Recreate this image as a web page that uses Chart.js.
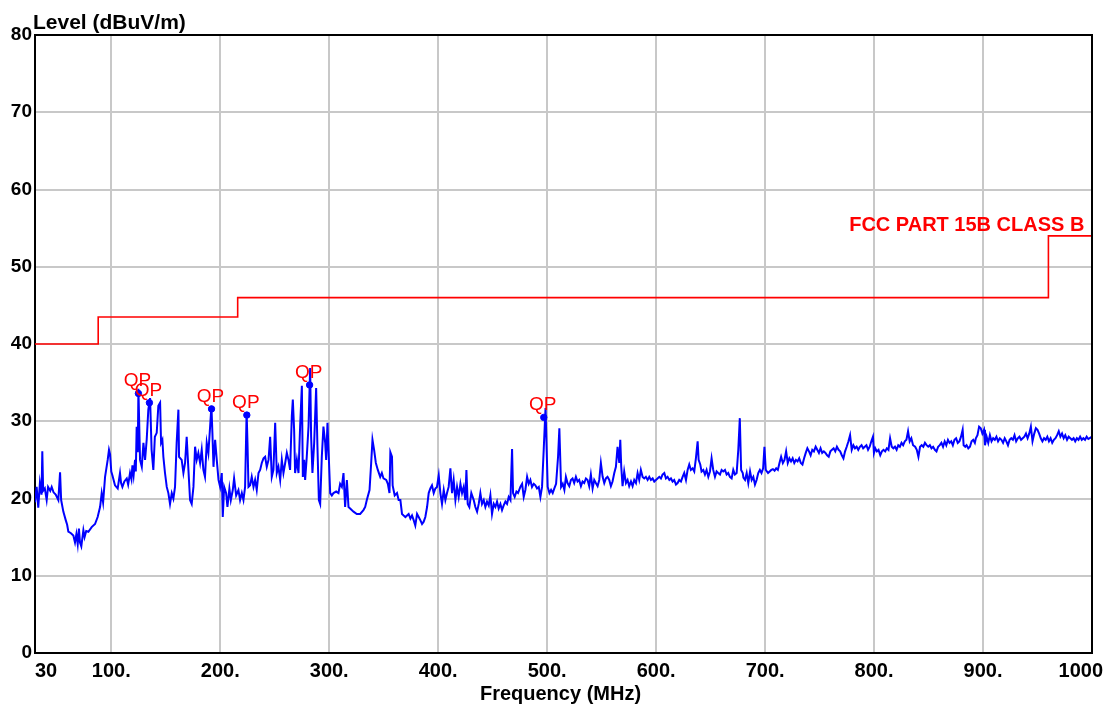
<!DOCTYPE html>
<html><head><meta charset="utf-8">
<script src="https://cdn.jsdelivr.net/npm/chart.js@4.4.1/dist/chart.umd.min.js"></script>
<style>html,body{margin:0;padding:0;background:#fff;}#wrap{width:1110px;height:709px;position:relative;}</style>
</head><body><div id="wrap"><canvas id="c" width="1110" height="709"></canvas></div>
<script>
// ---- data ----
const freqMHz = [
30,31.5,33,34.5,36,36.7,37.5,39,40.7,42,
44,45.3,47,49,51.4,53,54,56,58.2,59.5,
60.6,63,65.2,66.7,68,69.2,70.3,71.3,72.5,74.4,
75.5,77,79,82,85.1,87.5,89.7,91.2,92.5,94.3,
96.7,97.9,98.9,100,101,103.4,105.9,108,109,110.2,
112,114.2,115.5,117.2,118.5,119.4,120.5,121.8,122.5,123.3,
124.3,124.9,126.4,128,129.5,131,132.5,134,135.6,137,
138.6,140,141.7,143.2,144.8,145.7,146.9,147.8,149.3,150.9,
152.4,153.9,155.5,157,158.5,160,161.6,162.2,164.6,166.2,
167.7,169.2,170.8,172.3,173.8,175.4,176.9,178.4,179.9,181.5,
183,184.5,186,187.6,189.1,190.7,191.9,192.8,193.8,195.3,
196.8,198.4,199.9,201.4,202.3,203.6,205.4,206.6,208.4,209.7,
211.5,212.7,214.6,216.7,218.2,219.8,221.3,222.8,224.2,225,
225.9,227.4,228.9,230.5,232,233.5,235.1,236.6,238.1,239.7,
241.2,242.7,244.3,245.8,247.3,248.8,250.4,251.9,253.4,255,
256.5,258,259.6,261.1,262.6,264.1,265.7,266.6,267.8,268.7,
270.3,271.8,273.3,274.9,275.8,277,277.9,279.4,281,282.5,
283.4,284.6,286.2,288,289.2,290.5,291.7,293.2,294.7,296.3,
297.2,298.4,299.6,300.9,302.4,303.9,306.4,308.5,310,311.6,
313.1,314.6,316.2,317.7,319.2,322.3,325.3,328.4,331.4,333,
334.5,337,338.5,339.7,341.2,342.8,344.6,346.8,348.3,349.8,
352.3,353.8,355.3,356.1,357.6,358.2,360.1,362.2,363.7,365.3,
366.8,368.3,369.9,372.9,374.5,376,377.5,379,380.6,382.1,
383.6,385.2,386.7,388.2,389.8,391.3,392.8,394.3,395.9,397.4,
398.9,400.5,402,403.5,405.1,406.6,408.1,409.6,411.2,412.7,
414.2,415.8,417.3,418.8,420.4,421.9,423.4,424.9,425.9,427.1,
428.6,430.4,432.6,434.1,435.7,437.2,438.7,440.2,441.8,443.3,
444.8,446.4,447.9,449.4,451,452.5,454,455.5,457.1,458.6,
460.1,461.7,463.2,464.7,466.3,467.8,468.7,470.2,471.8,473.3,
475.4,477,478.5,480,481.6,483.1,484.6,486.1,487.7,489.2,
490.7,492.3,493.8,495.3,496.9,498.5,500.5,502.1,503.6,505.1,
506.6,508.2,510,511.2,512.8,514.3,515.8,517.2,518.7,520.3,
521.8,523.3,524.8,526.4,527.9,529.4,531,532.5,534,535.6,
537.1,538.6,540.1,541.7,543.2,544.7,546.3,547.8,549.3,550.9,
552.4,553.9,555.4,557,558.5,560,561.6,563.1,564.6,566.2,
567.1,568,569.2,570.7,572.3,573.8,575.3,576.9,578.4,579.9,
581.5,583,584.5,586,587.6,589.1,590.6,592.2,593.7,595.2,
596.8,598.3,599.8,601.3,602.9,604.4,605.9,607.5,609,610.5,
612.1,613.6,615.1,616.6,618.2,619.7,621.2,622.8,624.3,625.8,
627.4,628.9,630.4,631.9,633.5,635,636.5,638.1,639,640.5,
641.7,643.3,644.8,646.3,647.9,649.4,650.9,652.4,654,655.5,
657,658.6,660.1,661.6,663.2,664.7,666.2,667.7,669.3,670.8,
672.3,673.9,675.4,676.8,678,679.5,680.1,681.6,683.1,684.6,
686.2,687.7,689.2,690.7,692.2,693.7,695.2,696.7,698.2,699.4,
700.6,702.7,704.2,705.7,707.2,708.7,710.2,711.7,713.2,714.7,
716.3,717.8,719.3,720.8,722.3,723.8,725.3,726.8,728.3,729.8,
731.3,732.8,734.3,735.8,737.3,738.8,740.3,741.8,743.3,744.8,
746.4,747.9,749.4,750.9,752.4,753.9,755.4,756.9,758.4,759.9,
761.4,762.9,764.4,765.9,767.4,768.9,770.4,771.9,773.4,774.9,
776.5,778,779.5,781,782.5,784,785.5,787,788.5,790,
791.5,793,794.5,796,797.5,799,799.9,801.1,802.6,804.1,
805.7,807.2,808.7,810.2,811.7,813.2,814.7,816.2,817.7,819.2,
820.7,822.2,823.7,825.2,826.7,828.2,829.7,831.2,832.7,834.2,
835.8,837.7,839.2,840.7,842.2,843.7,845.2,846.7,848.2,849.7,
851.2,852.7,854.2,855.8,857.3,858.8,860.3,861.8,863.3,864.8,
866.3,867.8,869.3,870.8,872.3,873.8,875.3,876.8,878.3,879.8,
881.3,882.2,883.7,884.9,886.5,888,889.5,891,892.5,893.4,
894.9,896.4,897.9,899.4,900.9,901.8,903.3,904.8,906.3,907.8,
909.3,910.8,912.3,913.8,915.4,916.9,918.4,919.9,921.4,922.9,
924.4,925.9,927.4,928.9,930.4,931.9,933.4,934.9,936.4,937.9,
939.4,940.9,942.4,943.9,945.4,947,948.5,950,951.5,953,
954.5,956,957.5,959,960.5,962,963.5,965,966.5,968,
969.5,971,972.5,974,975.5,977.1,978.6,980.1,981.6,983.1,
984.6,986.1,987.6,989.1,990.6,992.1,993.6,995.1,996.6,1000
];
const levelDb = [
19.5,21.5,18.8,22,20.5,26.1,21,21.3,19.8,21.5,
21,21.5,20.8,20.5,19.8,23.4,19.8,18.3,17.2,16.6,
15.7,15.5,15.2,14.3,15.4,14.1,16.1,14.3,13.8,15.9,
15,15.8,15.7,16.3,16.7,17.6,18.9,20.7,19.5,22.8,
25,26.3,25.7,23.5,23,21.7,21.3,23.3,22,21.5,
22.2,22.6,21.8,23.3,22.5,24.3,23,25,23.5,29.3,
26,34.2,25,24.1,27.2,25,27.6,31.5,33,26.3,
23.7,28,28.5,32,32.4,27.2,27.6,25.4,23.3,21.5,
20.7,19.3,20.7,20,21.5,27.2,31.5,25.4,25,23.3,
24.6,28,23.7,19.8,19.3,21.5,26.7,25,25.9,24.6,
26.3,23.7,22.8,27.2,25.9,29.3,32,28.5,24.1,27.6,
25,22.4,21.5,23.3,17.6,21.5,20.7,18.9,21.3,19.8,
21.1,22.6,20.4,21.1,19.8,20.7,19.8,21.5,31.2,27.2,
21.5,21.7,22.8,21.5,22.4,21.1,23.3,23.7,24.6,25.2,
25.4,24.1,25,28,22.8,23.7,29.8,23.3,24.1,22.4,
25,23.3,24.6,25.9,25,23.7,30.7,32.8,28.9,23.3,
25,23.3,29.3,34.6,22.8,25,22.4,25.4,29.3,36.9,
28,23.3,27.2,34.3,26.7,19.8,19.3,25.4,29.3,27.2,
25,29.8,25.4,20.7,20.4,20.7,20.9,20.7,21.9,21.5,
23.3,18.9,22.4,18.9,18.7,18.3,18,18,18.5,18.9,
19.8,21.1,24.6,27.6,26.3,24.6,23.7,22.8,23.3,22.6,
22.4,21.9,20.7,26,25.4,21.7,20.4,20.7,19.8,19.8,
18,17.8,17.6,18,17.4,17.8,17.2,16.5,18,17.6,
17.2,16.7,17,17.6,18.9,20.7,21.3,21.7,20.7,21.3,
21.5,23,20.7,19.3,21.1,19.8,20.7,21.5,23.9,20.7,
22.4,19.8,21.5,20.2,21.9,20.7,21.5,19.8,23.7,19.3,
18.9,20.7,19.8,18.9,18.3,19.3,20.7,19.3,19.8,18.9,
19.6,19.1,20.4,18,19.3,18.9,19.6,18.7,19.3,18.5,
19.1,19.6,19.3,20.2,19.8,26.4,20.7,20.2,20.9,20.7,
21.5,21.9,20.2,21.1,22.8,21.9,22.4,21.5,21.9,21.7,
21.3,21.5,20.2,21.5,26.5,31.7,21.5,20.7,21.1,20.7,
21.3,21.9,25.4,29.1,21.5,21.9,21.1,22.8,22,21.6,
22.4,22.6,22,22.8,22.2,22.4,21.6,22.2,22,22.6,
22.4,21.6,23.1,21.3,22.4,22,21.6,22.4,24.6,22.8,
22,22.6,22.8,22.4,21.6,22.2,23.3,24.1,26.7,24.6,
27.6,24.1,21.6,23.5,22,22.4,21.6,22.2,21.6,22.4,
22,23.3,22.4,23.7,22.8,22.6,22.8,22.4,22.8,22.4,
22.6,22.2,22.4,22.6,22.8,22.6,23.1,23.3,22.6,22.8,
22.4,22.6,22.2,22.4,21.8,22,22.4,22.2,22.8,23.3,
22.4,23.7,24.4,23.7,23.9,23.5,25.2,27.4,25,24.4,
23.5,23.7,23.1,23.7,22.8,23.5,25.2,23.7,22.8,23.5,
23.3,23.1,23.7,23.5,23.7,23.1,23.3,22.8,22.6,23.7,
23.1,23.3,26.3,30.4,23.7,23.3,22.7,22.4,23.3,22,
23.5,22.4,22.8,21.8,22.4,23.3,23.7,23.3,23.9,26.7,
23.7,23.3,23.5,23.7,23.8,23.6,23.9,23.7,24.6,25.4,
24.6,25,26.1,24.6,25.2,24.8,25.2,24.6,25,24.8,
25.2,24.6,24.4,25.2,25.9,26.5,26.1,25.6,26.3,26.1,
26.7,26.3,25.9,26.5,25.9,26.1,25.9,25.6,25.4,26.1,
26.3,26.5,26.1,26.7,26.3,26.1,25.6,25.2,26.1,26.7,
27.4,28.2,26.3,26.9,26.5,26.7,26.3,26.7,26.9,26.5,
26.7,26.9,26.3,26.7,27.4,28,25.9,26.5,26.1,26.3,
25.6,26.1,26.3,26.1,26.5,26.3,27.8,26.7,26.5,26.7,
26.3,26.9,26.7,27.2,26.9,27.4,27.6,28.7,27.4,27.8,
26.9,26.7,26.3,25.4,26.7,26.9,26.7,27.2,26.9,26.7,
26.9,26.5,26.7,26.3,26.1,26.7,26.9,27.2,26.7,27.4,
26.9,27.6,27.2,27.4,26.9,27.6,27.8,27.2,27.4,28,
28.9,26.9,26.7,26.9,26.5,26.7,27.4,27.6,27.2,27.8,
28.2,29.3,29.1,28.4,28.9,26.9,28,27.2,28.2,27.4,
27.8,27.6,28,27.4,27.8,27.6,27.2,27.8,27.4,26.9,
27.6,27.8,27.6,28.2,27.4,27.8,28,27.6,27.8,28,
28.4,27.8,28.4,29.3,27.4,28.4,29.1,28.9,28.4,27.8,
27.4,27.8,27.6,28,27.4,27.8,27.2,27.6,27.8,28.2,
28.7,28,28.4,27.8,28.2,27.6,28,27.8,27.6,27.8,
27.4,27.8,27.6,28,27.6,27.8,27.6,28,27.7,28
];
const limitFreq  = [30, 88, 88, 216, 216, 960, 960, 1000];
const limitLevel = [40, 40, 43.5, 43.5, 46, 46, 54, 54];
const qpFreq  = [124.9, 135, 192, 224.4, 282, 496.9];
const qpLevel = [33.6, 32.4, 31.6, 30.8, 34.7, 30.5];
const qpText = 'QP';
const xTicks = [30, 100, 200, 300, 400, 500, 600, 700, 800, 900, 1000];
const xTickLabels = ['30', '100.', '200.', '300.', '400.', '500.', '600.', '700.', '800.', '900.', '1000'];
const yTicks = [0, 10, 20, 30, 40, 50, 60, 70, 80];
const limitName = 'FCC PART 15B CLASS B';
const yTitle = 'Level (dBuV/m)';
const xTitle = 'Frequency (MHz)';

// ---- chart ----
const FONT = '"Liberation Sans", Arial, Helvetica, sans-serif';
const n = Math.min(freqMHz.length, levelDb.length);
const traceData = [];
for (let i = 0; i < n; i++) traceData.push({x: freqMHz[i], y: levelDb[i]});
const limitData = limitFreq.map((f, i) => ({x: f, y: limitLevel[i]}));
const qpData = qpFreq.map((f, i) => ({x: f, y: qpLevel[i]}));

const decor = {
  id: 'decor',
  afterDatasetsDraw(chart) {
    const ctx = chart.ctx, a = chart.chartArea;
    const xs = chart.scales.x, ys = chart.scales.y;
    ctx.save();
    ctx.strokeStyle = '#000';
    ctx.lineWidth = 2;
    ctx.beginPath();
    ctx.moveTo(a.left, a.top); ctx.lineTo(a.right, a.top); ctx.lineTo(a.right, a.bottom);
    ctx.stroke();
    const meta = chart.getDatasetMeta(2);
    ctx.fillStyle = '#ff0000';
    ctx.font = '19px ' + FONT;
    ctx.textAlign = 'center';
    ctx.textBaseline = 'alphabetic';
    meta.data.forEach(pt => { ctx.fillText(qpText, pt.x - 1, pt.y - 7); });
    ctx.font = 'bold 20px ' + FONT;
    ctx.textAlign = 'right';
    ctx.fillText(limitName, xs.getPixelForValue(993), ys.getPixelForValue(54) - 5);
    ctx.fillStyle = '#000';
    ctx.font = 'bold 20px ' + FONT;
    xTicks.forEach((v, i) => {
      const px = xs.getPixelForValue(v);
      if (i === 0) { ctx.textAlign = 'left'; ctx.fillText(xTickLabels[i], px, a.bottom + 24); }
      else if (i === xTicks.length - 1) { ctx.textAlign = 'right'; ctx.fillText(xTickLabels[i], px + 11, a.bottom + 24); }
      else { ctx.textAlign = 'center'; ctx.fillText(xTickLabels[i], px, a.bottom + 24); }
    });
    ctx.textAlign = 'left';
    ctx.font = 'bold 21px ' + FONT;
    ctx.fillText(yTitle, a.left - 2, a.top - 6);
    ctx.font = 'bold 20px ' + FONT;
    ctx.textAlign = 'center';
    ctx.fillText(xTitle, (a.left + a.right) / 2 - 3, a.bottom + 47);
    ctx.restore();
  }
};

new Chart(document.getElementById('c'), {
  type: 'line',
  data: {
    datasets: [
      {label: 'Level', data: traceData, borderColor: '#0000ff', borderWidth: 2, pointRadius: 0, tension: 0, order: 3},
      {label: limitName, data: limitData, borderColor: '#ff0000', borderWidth: 1.6, pointRadius: 0, tension: 0, order: 2},
      {label: 'QP', data: qpData, showLine: false, pointRadius: 3.2, pointStyle: 'circle', backgroundColor: '#0000ff', borderColor: '#0000ff', borderWidth: 1, order: 1}
    ]
  },
  options: {
    responsive: false,
    animation: false,
    devicePixelRatio: 1,
    layout: {padding: {top: 35, right: 18, bottom: 0, left: 0}},
    plugins: {legend: {display: false}, tooltip: {enabled: false}, title: {display: false}},
    scales: {
      x: {
        type: 'linear', min: 30, max: 1000,
        afterBuildTicks: s => { s.ticks = xTicks.map(v => ({value: v})); },
        afterFit: s => { s.height = 56; },
        ticks: {display: false},
        grid: {color: '#c8c8c8', lineWidth: 2, drawTicks: false},
        border: {display: true, color: '#000', width: 2}
      },
      y: {
        min: 0, max: 80,
        afterBuildTicks: s => { s.ticks = yTicks.map(v => ({value: v})); },
        afterFit: s => { s.width = 35; },
        ticks: {color: '#000', font: {family: FONT, size: 19, weight: 'bold'}, padding: 3},
        grid: {color: '#c8c8c8', lineWidth: 2, drawTicks: false},
        border: {display: true, color: '#000', width: 2}
      }
    }
  },
  plugins: [decor]
});
</script>
</body></html>
